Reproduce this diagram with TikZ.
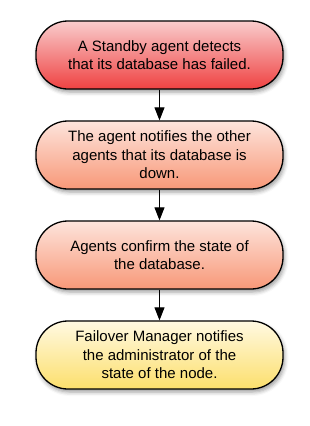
\documentclass[tikz,border=0pt]{standalone}
\usepackage{fontspec}
\setmainfont{Liberation Sans}
\usetikzlibrary{arrows.meta,shadows.blur}
\definecolor{redtop}{HTML}{F9CCCC}
\definecolor{redbot}{HTML}{EF4242}
\definecolor{salmontop}{HTML}{FDE4DC}
\definecolor{salmonbot}{HTML}{F89878}
\definecolor{yellowtop}{HTML}{FFF9E2}
\definecolor{yellowbot}{HTML}{FCDF6C}
\begin{document}
\begin{tikzpicture}[x=1pt, y=1pt,
  stage/.style={draw, line width=1.3pt, rounded corners=32pt, align=center,
    minimum width=247pt, minimum height=68pt, inner sep=0pt,
    font=\fontsize{15}{18.5}\selectfont,
    blur shadow={shadow xshift=1.5pt, shadow yshift=-3pt, shadow blur radius=4pt, shadow opacity=40}},
  link/.style={-{Triangle[length=13pt,width=10pt]}, line width=0.9pt}]
\useasboundingbox (0,0) rectangle (309,-426);
\node[stage, top color=redtop, bottom color=redbot] (detect) at (159.5,-55) {A Standby agent detects\\ that its database has failed.};
\node[stage, top color=salmontop, bottom color=salmonbot] (notify) at (159.5,-155) {The agent notifies the other\\ agents that its database is\\ down.};
\node[stage, top color=salmontop, bottom color=salmonbot] (confirm) at (159.5,-255) {Agents confirm the state of\\ the database.};
\node[stage, top color=yellowtop, bottom color=yellowbot] (admin) at (159.5,-355) {Failover Manager notifies\\ the administrator of the\\ state of the node.};
\draw[link] (detect) -- (notify);
\draw[link] (notify) -- (confirm);
\draw[link] (confirm) -- (admin);
\end{tikzpicture}
\end{document}
